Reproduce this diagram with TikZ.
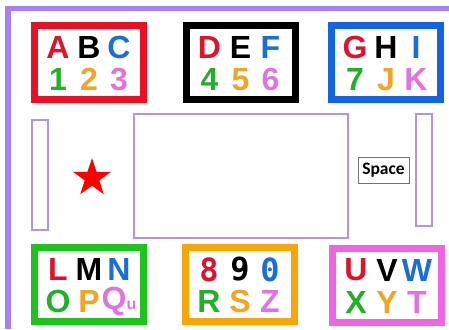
\documentclass[tikz,border=0pt]{standalone}
\usepackage{fontspec}
\setmainfont{Liberation Sans}[BoldFont={Liberation Sans Bold}]
\newfontfamily\monofnt{DejaVu Sans Mono}[BoldFont={DejaVu Sans Mono Bold}]
\newfontfamily\calfnt{Carlito}
\usepackage{xcolor}
\usetikzlibrary{positioning,shapes.geometric}

\definecolor{framepurple}{RGB}{165,130,240}
\definecolor{barpurple}{RGB}{175,150,225}
\definecolor{keyred}{RGB}{232,16,36}
\definecolor{keyblue}{RGB}{20,100,225}
\definecolor{keygreen}{RGB}{30,195,30}
\definecolor{keyorange}{RGB}{248,165,10}
\definecolor{keypink}{RGB}{240,100,230}
\definecolor{txtred}{RGB}{220,20,45}
\definecolor{txtblue}{RGB}{25,110,215}
\definecolor{txtgreen}{RGB}{35,175,40}
\definecolor{txtorange}{RGB}{240,165,35}
\definecolor{txtpink}{RGB}{225,115,225}

\tikzset{
  keybox/.style={draw, line width=7pt, minimum width=109pt, minimum height=74pt, inner sep=0pt},
  ltr/.style={font=\fontsize{32}{32}\selectfont\bfseries, inner sep=0pt, anchor=center},
  panel/.style={draw=barpurple, line width=1.4pt, inner sep=0pt},
  spacekey/.style={draw=black!55, line width=0.8pt, minimum width=51pt, minimum height=26pt,
    inner sep=0pt, font=\calfnt\bfseries\fontsize{17.5}{17.5}\selectfont}
}

\begin{document}
\begin{tikzpicture}[x=1pt, y=-1pt]
\useasboundingbox (0,0) rectangle (449,329);
\fill[white] (0,0) rectangle (449,329);
% outer frame (only top and left edges show)
\fill[framepurple] (5,6) rectangle (449,11);
\fill[framepurple] (5,6) rectangle (11,329);
% letter boxes
\foreach \nm/\cx/\cy/\col/\la/\lb/\lc/\ld/\le/\lf in {
  abc/89/62.5/keyred/A/B/C/1/2/3,
  def/240.5/62.5/black/D/E/F/4/5/6,
  ghi/386/62.5/keyblue/G/H/I/7/J/K,
  lmn/89/284.5/keygreen/L/M/N/O/P/{Q{\fontsize{16}{16}\selectfont u}},
  num/240/284.5/keyorange/{\monofnt\bfseries 8}/{\monofnt\bfseries 9}/{\monofnt\bfseries 0}/R/S/Z,
  uvw/387/285/keypink/U/V/W/X/Y/T}
{
  \node[keybox, draw=\col] (\nm) at (\cx,\cy) {};
  \node[ltr, txtred]    (\nm-1) at (\cx-31,\cy-15) {\la};
  \node[ltr, black]     (\nm-2) at (\cx,\cy-15)    {\lb};
  \node[ltr, txtblue]   (\nm-3) at (\cx+30,\cy-15) {\lc};
  \node[ltr, txtgreen]  (\nm-4) at (\cx-31,\cy+17) {\ld};
  \node[ltr, txtorange] (\nm-5) at (\cx,\cy+17)    {\le};
  \node[ltr, txtpink]   (\nm-6) at (\cx+30,\cy+17) {\lf};
}
% middle row
\node[panel, minimum width=16pt, minimum height=110pt] (leftbar) at (40,175) {};
\node[panel, minimum width=214pt, minimum height=124pt] (screen) at (241,176) {};
\node[panel, minimum width=16pt, minimum height=112pt] (rightbar) at (424,170) {};
\node[spacekey] (space) at (383.5,170) {Space};
\node[star, star points=5, star point ratio=2.6, fill=red, minimum size=40pt,
  inner sep=0pt] (mark) at (92,178) {};
\end{tikzpicture}
\end{document}
